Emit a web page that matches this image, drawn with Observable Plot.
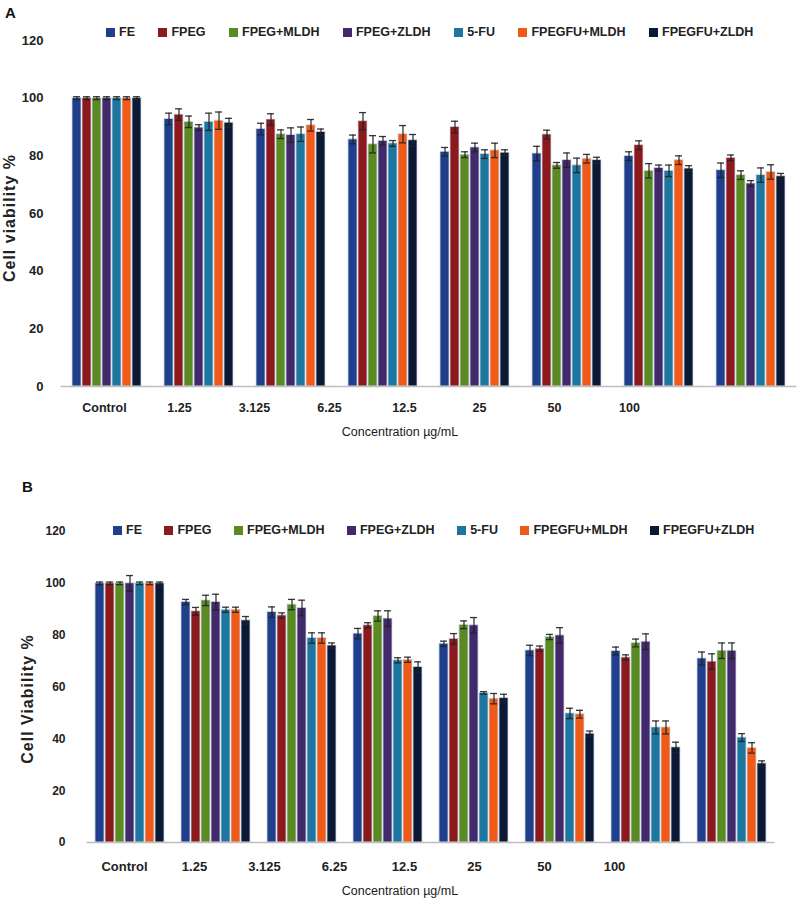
<!DOCTYPE html>
<html>
<head>
<meta charset="utf-8">
<script src="https://cdn.jsdelivr.net/npm/d3@7"></script>
<script src="https://cdn.jsdelivr.net/npm/@observablehq/plot@0.6"></script>
<style>
  body { margin: 0; background: #fff; font-family: "Liberation Sans", Arial, sans-serif; }
  #root { position: relative; width: 800px; height: 900px; overflow: hidden; }
  .abs { position: absolute; }
  .panel-label { font-weight: bold; font-size: 15px; line-height: 15px; color: #111; }
  .xtitle { left: 0; width: 800px; text-align: center; font-size: 12.5px; line-height: 14px; color: #1a1a1a; }
  .ytitle { width: 220px; height: 20px; line-height: 20px; text-align: center; font-size: 16px; font-weight: bold;
            letter-spacing: 1px; color: #222; transform: rotate(-90deg); white-space: nowrap; }
  div.leg-swatches { font-family: "Liberation Sans", Arial, sans-serif; font-size: 12.5px; font-weight: bold; color: #222; margin: 0; }
  div.leg-swatches-wrap { min-height: 16px; flex-wrap: nowrap; }
  div.leg-swatches .leg-swatch { margin-right: var(--gap); }
  div.leg-swatches .leg-swatch > svg { margin-right: 4px; }
  svg.tickbold g[aria-label="y-axis tick label"] text { font-weight: bold; }
</style>
</head>
<body>
<div id="root"></div>
<script>
// ---------- data ----------
const concentrations = ["Control", "1.25", "3.125", "6.25", "12.5", "25", "50", "100"];
const series = ["FE", "FPEG", "FPEG+MLDH", "FPEG+ZLDH", "5-FU", "FPEGFU+MLDH", "FPEGFU+ZLDH"];
const seriesColors = ["#1f3e8c", "#8c1a1c", "#5a8a22", "#41296b", "#1c76a0", "#f05a18", "#0b1937"];
const yTicks = [0, 20, 40, 60, 80, 100, 120];

// Panel A: mean cell viability (%) per series (rows) and concentration (columns)
const meanA = [
  [100, 92.8, 89.3, 85.7, 81.4, 80.8, 79.9, 75.0],
  [100, 94.3, 92.6, 92.0, 90.0, 87.4, 83.7, 79.3],
  [100, 91.8, 87.5, 84.0, 80.4, 76.7, 74.8, 73.3],
  [100, 89.8, 87.2, 85.2, 82.9, 78.5, 75.8, 70.4],
  [100, 91.8, 87.5, 84.3, 80.6, 76.7, 74.8, 73.3],
  [100, 92.2, 90.6, 87.5, 81.9, 79.0, 78.5, 74.4],
  [100, 91.5, 88.3, 85.4, 81.1, 78.5, 75.6, 72.9]
];
const sdA = [
  [0.5, 2.0, 2.0, 1.5, 1.5, 2.5, 1.5, 2.5],
  [0.5, 2.0, 2.0, 3.0, 2.0, 1.5, 1.5, 1.0],
  [0.5, 2.0, 1.5, 3.0, 1.0, 1.0, 2.5, 1.5],
  [0.5, 1.0, 2.5, 1.5, 1.5, 2.5, 1.0, 1.0],
  [0.5, 3.0, 2.5, 1.0, 1.5, 2.5, 2.0, 2.5],
  [0.5, 3.0, 2.0, 3.0, 2.5, 1.5, 1.5, 2.5],
  [0.5, 1.5, 1.0, 2.0, 1.0, 1.0, 1.0, 1.0]
];

// Panel B
const meanB = [
  [100, 92.8, 88.9, 80.6, 76.7, 74.1, 73.9, 71.0],
  [100, 89.2, 87.6, 83.8, 78.6, 74.8, 71.4, 69.8],
  [100, 93.4, 91.8, 87.4, 84.0, 79.3, 77.0, 74.0],
  [100, 92.8, 90.5, 86.4, 83.8, 79.9, 77.5, 74.0],
  [100, 89.8, 78.9, 70.3, 57.7, 49.8, 44.4, 40.5],
  [100, 89.8, 78.9, 70.5, 55.5, 49.5, 44.4, 36.5],
  [100, 85.7, 76.0, 67.7, 55.7, 42.0, 36.7, 30.5]
];
const sdB = [
  [0.5, 1.0, 2.0, 2.0, 1.0, 2.0, 1.5, 2.5],
  [0.5, 1.5, 1.0, 1.0, 2.0, 1.0, 1.0, 3.0],
  [0.5, 2.0, 2.0, 2.0, 1.5, 1.0, 1.5, 3.0],
  [3.0, 3.0, 3.0, 3.0, 3.0, 3.0, 3.0, 3.0],
  [0.5, 1.0, 2.0, 1.0, 0.5, 2.0, 2.5, 1.5],
  [0.5, 1.0, 2.0, 1.0, 2.0, 1.5, 2.5, 2.0],
  [0.5, 1.5, 1.0, 2.0, 1.5, 1.0, 2.0, 1.0]
];

// ---------- helpers ----------
const toRows = (mean, sd) =>
  concentrations.flatMap((c, i) => series.map((s, j) => ({conc: c, series: s, v: mean[j][i], sd: sd[j][i]})));

const root = document.getElementById("root");
const FONT = "Liberation Sans, Arial, sans-serif";

function place(el, top, left) {
  el.classList.add("abs");
  el.style.top = top + "px";
  el.style.left = left + "px";
  root.appendChild(el);
  return el;
}
function textDiv(cls, txt) {
  const d = document.createElement("div");
  d.className = cls;
  d.textContent = txt;
  return d;
}

function panel(cfg) {
  const data = toRows(cfg.mean, cfg.sd);
  // panel letter
  place(textDiv("panel-label", cfg.letter), cfg.letterTop, cfg.letterLeft);

  // legend
  const leg = Plot.legend({
    color: {type: "ordinal", domain: series, range: seriesColors},
    legend: "swatches",
    swatchSize: 9,
    className: "leg"
  });
  const legWrap = document.createElement("div");
  legWrap.style.setProperty("--gap", cfg.legGap + "px");
  legWrap.appendChild(leg);
  place(legWrap, cfg.legTop, cfg.legLeft);

  // main chart
  const chart = Plot.plot({
    width: 800,
    height: cfg.height,
    marginTop: cfg.mt,
    marginBottom: cfg.mb,
    marginLeft: cfg.ml,
    marginRight: cfg.mr,
    className: "tickbold",
    style: {fontFamily: FONT, fontSize: cfg.tickFont + "px", color: "#222", background: "transparent"},
    fx: {domain: concentrations, paddingInner: cfg.pi, paddingOuter: cfg.po, axis: null, label: null},
    x: {domain: series, paddingInner: 0.15, paddingOuter: 0, axis: null},
    y: {domain: [0, 120]},
    color: {domain: series, range: seriesColors},
    marks: [
      Plot.axisY({ticks: yTicks, tickSize: 0, tickPadding: cfg.tp, label: null, fontSize: cfg.tickFont}),
      Plot.barY(data, {fx: "conc", x: "series", y: "v", fill: "series", stroke: "#d3dbe6", strokeWidth: 0.8}),
      Plot.ruleY([0], {stroke: "#bdbdbd", strokeWidth: 1.5, insetLeft: -cfg.halfGap, insetRight: -cfg.halfGap}),
      Plot.ruleX(data, {fx: "conc", x: "series", y1: d => d.v - d.sd, y2: d => d.v + d.sd, stroke: "#222", strokeWidth: 1.3, strokeOpacity: 0.9}),
      Plot.tickY(data, {fx: "conc", x: "series", y: d => d.v + d.sd, stroke: "#222", strokeWidth: 1.3, strokeOpacity: 0.9, insetLeft: 1, insetRight: 1}),
      Plot.tickY(data, {fx: "conc", x: "series", y: d => d.v - d.sd, stroke: "#222", strokeWidth: 1.3, strokeOpacity: 0.9, insetLeft: 1, insetRight: 1})
    ]
  });
  place(chart, cfg.svgTop, 0);

  // category labels row (as laid out in the original figure)
  const labels = Plot.plot({
    width: 800,
    height: 20,
    marginTop: 0, marginBottom: 0,
    marginLeft: cfg.labL, marginRight: cfg.labR,
    style: {fontFamily: FONT, background: "transparent"},
    x: {type: "point", domain: concentrations, padding: 0, axis: null},
    marks: [Plot.text(concentrations, {x: d => d, frameAnchor: "middle", fontSize: cfg.labFont, fontWeight: "bold", fill: "#222"})]
  });
  place(labels, cfg.labTop, 0);

  // axis titles
  place(textDiv("xtitle", "Concentration µg/mL"), cfg.xtTop, 0);
  place(textDiv("ytitle", cfg.ytitle), cfg.ytCy - 10, cfg.ytCx - 110);
}

panel({
  letter: "A", letterTop: 5, letterLeft: 5,
  legTop: 24, legLeft: 106, legGap: 23.5,
  mean: meanA, sd: sdA,
  svgTop: 0, height: 450, mt: 40, mb: 64, ml: 62, mr: 5,
  pi: 0.185, po: 0.076, halfGap: 8.5, tp: 26, tickFont: 13,
  labTop: 397, labL: 103, labR: 170, labFont: 12.5,
  xtTop: 425,
  ytitle: "Cell viability %", ytCx: 10, ytCy: 218
});

panel({
  letter: "B", letterTop: 479, letterLeft: 22,
  legTop: 522, legLeft: 113, legGap: 22.5,
  mean: meanB, sd: sdB,
  svgTop: 460, height: 440, mt: 71, mb: 58, ml: 82, mr: 20,
  pi: 0.172, po: 0.1, halfGap: 7.5, tp: 29, tickFont: 12,
  labTop: 856, labL: 122, labR: 185, labFont: 13,
  xtTop: 884,
  ytitle: "Cell Viability %", ytCx: 28, ytCy: 699
});
</script>
</body>
</html>
